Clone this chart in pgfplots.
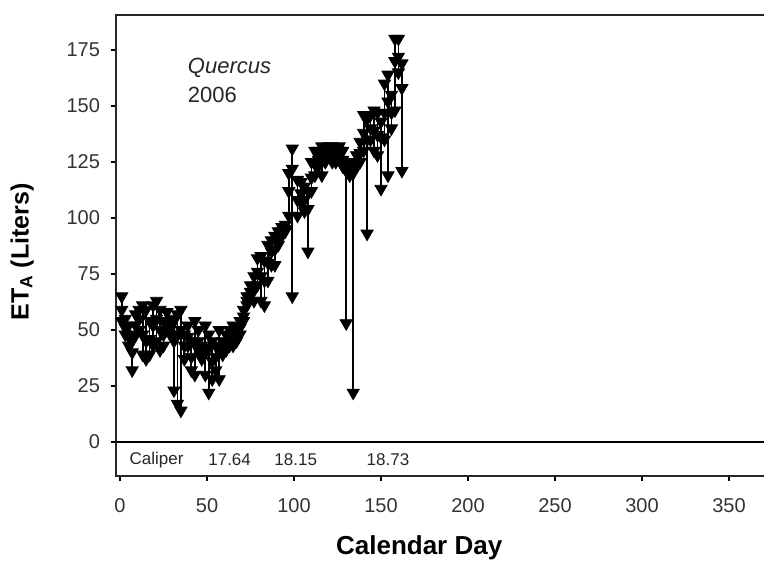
\documentclass[border=0pt]{standalone}
\usepackage{pgfplots}
\pgfplotsset{compat=1.18}
\usepackage{pgfplotstable}
\usepackage{fontspec}
\setmainfont{Liberation Sans}
\pgfplotstableread{
d hi mid lo
1 65 59 54
3 55 51 48
5 52 47 43
7 45 40 32
9 57 52 48
11 59 55 50
13 61 48 39
15 59 45 37
17 54 46 39
19 61 52 43
21 63 55 45
23 59 50 41
25 54 48 43
27 58 54 50
29 55 51 48
31 54 45 23
33 57 48 17
35 59 50 14
37 48 43 37
39 52 47 43
41 45 38 32
43 54 44 30
45 50 45 41
47 43 40 37
49 52 40 30
51 48 42 22
53 45 36 28
55 43 38 32
57 50 42 28
59 45 42 39
61 48 44 41
63 50 46 43
65 52 47 43
67 50 47 45
69 54 51 48
71 59 56 54
73 65 63 61
75 70 67 65
77 74 68 63
79 82 76 70
81 83 74 63
83 81 72 61
85 88 80 72
87 90 85 79
89 92 86 79
91 94 91 88
93 96 94 92
95 97 95 94
97 120 112 101
99 131 122 65
102 117 108 101
104 116 111 107
106 114 108 103
108 112 104 85
110 125 118 112
112 130 124 119
114 130 126 123
116 132 125 119
118 130 127 125
120 132 130 128
122 132 128 125
124 130 127 125
126 132 130 128
128 130 126 123
130 125 121 53
132 125 122 119
134 125 120 22
136 128 125 123
138 134 129 125
140 146 138 130
142 144 135 93
144 146 140 135
146 148 139 130
148 147 137 128
150 143 136 113
152 160 147 135
154 164 152 119
156 155 147 140
158 180 170 148
160 180 172 165
162 169 158 121
}\etdata
\begin{document}
\begin{tikzpicture}
\useasboundingbox (-58pt,-43pt) rectangle (324pt,238pt);
\begin{axis}[
  scale only axis,
  width=326pt, height=230.5pt,
  xmin=-2.3, xmax=372.4,
  ymin=-15.2, ymax=190.6,
  xtick={0,50,...,350},
  ytick={0,25,...,175},
  axis line style={line width=0.9pt, black!85},
  tick style={line width=0.6pt, black},
  tick align=outside,
  major tick length=2.5pt,
  xtick pos=bottom, ytick pos=left,
  /pgf/number format/assume math mode=true,
  tick label style={font=\fontsize{10}{12}\selectfont, black!80},
  xticklabel style={yshift=-5pt},
  yticklabel style={xshift=-2pt},
  xlabel={Calendar Day},
  ylabel={ET\textsubscript{A} (Liters)},
  xlabel style={font=\fontsize{13}{15}\selectfont\bfseries, at={(axis description cs:0.465,-0.156)}, anchor=center},
  ylabel style={font=\fontsize{12.5}{15}\selectfont\bfseries, at={(axis description cs:-0.144,0.486)}, anchor=center},
  clip=false,
]
\draw[line width=1.1pt, black] (axis cs:-2.3,0) -- (axis cs:372.4,0);
\addplot[only marks, mark=triangle*, mark size=3.5pt, mark options={rotate=180, fill=black, draw=black},
  error bars/.cd, y dir=minus, y explicit, error mark=none,
  error bar style={line width=0.9pt, black}]
  table[x=d, y=hi, y error expr=\thisrow{hi}-\thisrow{lo}] {\etdata};
\addplot[only marks, mark=triangle*, mark size=3.5pt, mark options={rotate=180, fill=black, draw=black}]
  table[x=d, y=mid] {\etdata};
\addplot[only marks, mark=triangle*, mark size=3.5pt, mark options={rotate=180, fill=black, draw=black}]
  table[x=d, y=lo] {\etdata};
\node[anchor=west, font=\fontsize{11}{13}\selectfont\itshape, black!85] at (axis cs:35,167) {Quercus};
\node[anchor=west, font=\fontsize{11}{13}\selectfont, black!85] at (axis cs:35,155) {2006};
\node[anchor=west, font=\fontsize{8.5}{10}\selectfont, black!85] at (axis cs:1.5,-8) {Caliper};
\node[font=\fontsize{8.5}{10}\selectfont, black!85] at (axis cs:63,-8) {17.64};
\node[font=\fontsize{8.5}{10}\selectfont, black!85] at (axis cs:101,-8) {18.15};
\node[font=\fontsize{8.5}{10}\selectfont, black!85] at (axis cs:154,-8) {18.73};
\end{axis}
\end{tikzpicture}
\end{document}
